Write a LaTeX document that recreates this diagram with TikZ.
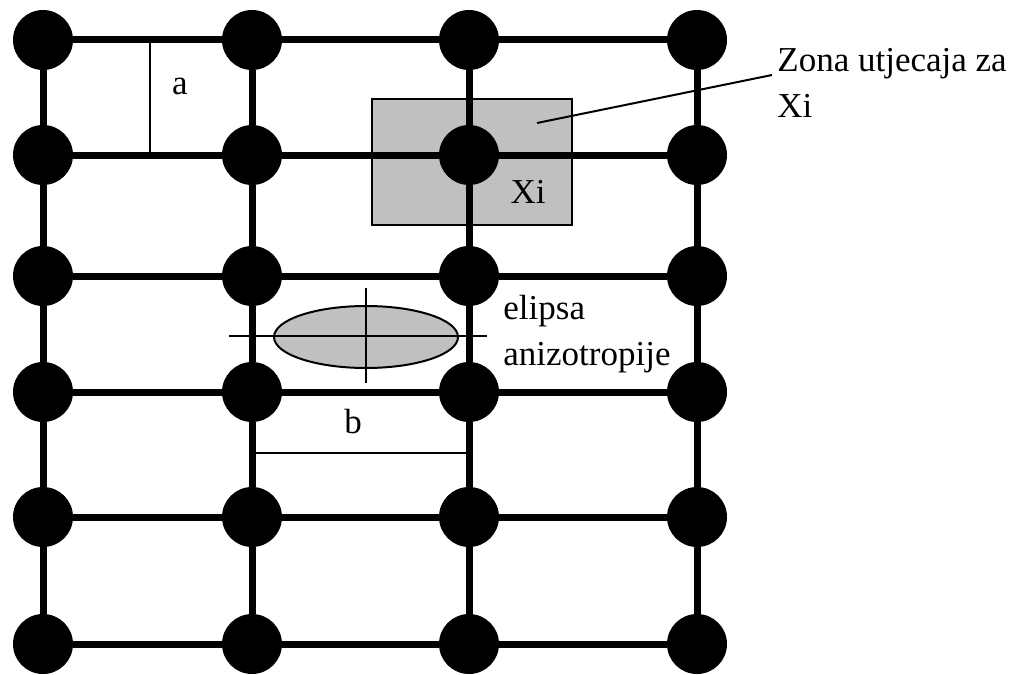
\documentclass[tikz,border=0pt]{standalone}
\usepackage{fontspec}
\setmainfont{Liberation Serif}
\begin{document}
\begin{tikzpicture}[x=0.5pt,y=0.5pt,yscale=-1,xscale=1,
    dot/.style={circle,fill=black,inner sep=0pt,minimum size=30pt},
    gridline/.style={line width=3.5pt},
    thinline/.style={line width=1pt},
    zone/.style={fill={rgb,255:red,192;green,192;blue,192},draw=black,line width=1pt},
    lbl/.style={inner sep=0pt,font=\fontsize{17.5}{23}\selectfont}]
    \useasboundingbox (0,0) rectangle (1016,674);

    % Zone around Xi (behind the grid)
    \draw[zone] (372,99) rectangle (572,225);

    % Grid points
    \foreach \c/\xx in {1/43,2/252,3/469,4/697}
        \foreach \r/\yy in {1/40,2/155,3/276,4/392,5/517,6/644}
            \node[dot] (n-\c-\r) at (\xx,\yy) {};

    % Rows
    \foreach \r in {1,...,6}
        \draw[gridline] (n-1-\r) -- (n-2-\r) -- (n-3-\r) -- (n-4-\r);
    % Columns
    \foreach \c in {1,...,4}
        \draw[gridline] (n-\c-1) -- (n-\c-2) -- (n-\c-3) -- (n-\c-4) -- (n-\c-5) -- (n-\c-6);

    % a
    \draw[thinline] (150,40) -- (150,155); % Line
    \node[lbl,anchor=base] (la) at (180,95) {a};

    % b
    \draw[thinline] (255,453) -- (468,453); % Line
    \node[lbl,anchor=base] (lb) at (353,433) {b};

    % Ellipse with axes
    \draw[zone] (366,337) ellipse [x radius=92, y radius=31];
    \draw[thinline] (229,336) -- (487,336) (366,288) -- (366,383); % Axes
    \node[lbl,anchor=base west,align=left] (elipsa) at (503,365) {elipsa\\anizotropije}; % base = last line

    % Xi and its zone label
    \node[lbl,anchor=base] (xi) at (528,203) {Xi};
    \node[lbl,anchor=base west,align=left] (zona) at (777,118) {Zona utjecaja za\\Xi};
    \coordinate (zonept) at (537,123);
    \coordinate (zonaend) at (772,75);
    \draw[thinline] (zonept) -- (zonaend); % Leader line
\end{tikzpicture}
\end{document}
